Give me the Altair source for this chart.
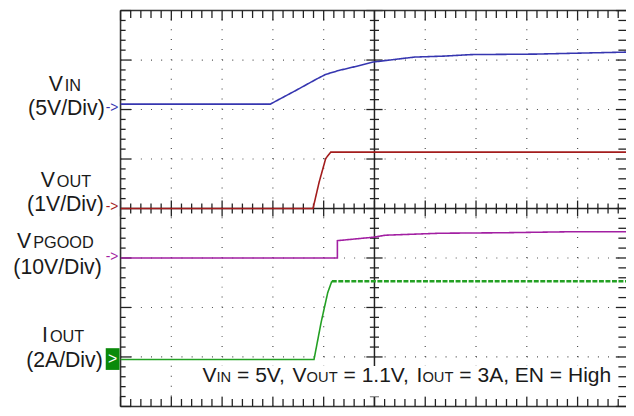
import altair as alt
import pandas as pd

# ---------------- data (oscilloscope divisions: time 0..10 div, amplitude 0..8 div) -------------
vin_t = [0.0, 2.95, 3.46, 3.85, 4.04, 4.30, 4.63, 4.98, 5.46, 5.79, 6.38, 6.90, 8.18, 9.04, 9.95, 10.0]
vin_v = [6.11, 6.11, 6.39, 6.61, 6.71, 6.79, 6.87, 6.96, 7.02, 7.06, 7.08, 7.11, 7.12, 7.14, 7.16, 7.16]

vout_t = [0.0, 3.79, 3.91, 4.04, 4.14, 10.0]
vout_v = [4.0, 4.0, 4.53, 5.01, 5.14, 5.14]

pg_t = [0.0, 4.27, 4.27, 4.98, 5.21, 6.28, 7.54, 8.84, 10.0]
pg_v = [3.0, 3.0, 3.35, 3.42, 3.46, 3.50, 3.51, 3.53, 3.53]

iout_t = [0.0, 3.81, 3.95, 4.08, 4.16, 10.0]
iout_v = [0.95, 0.95, 1.70, 2.30, 2.53, 2.53]
iout_settle = 4.16   # after this the current trace is the noisy, dashed-looking plateau

series_names = ["VIN", "VOUT", "VPGOOD", "IOUT"]
series_colors = ["#3636b0", "#a31c1c", "#a21fa2", "#23a023"]

# graticule (divisions)
x_major = [1, 2, 3, 4, 6, 7, 8, 9]
y_major = [1, 2, 3, 5, 6, 7]
x_ticks_minor = [i / 5 for i in range(0, 50) if i % 5 != 0]
x_ticks_major = [i for i in range(0, 10)]
y_ticks_minor = [i / 5 for i in range(0, 41) if i % 5 != 0]
y_ticks_major = [i for i in range(0, 9)]

DIV_X = 51.44
W, H = 512, 401
XMAX = W / DIV_X
FONT = "Liberation Sans"
INK = "#1a1a1a"

xs = alt.Scale(domain=[0, XMAX], nice=False, zero=False)
ys = alt.Scale(domain=[0, 8], nice=False, zero=False)

rows = []
for name, tt, vv in [("VIN", vin_t, vin_v), ("VOUT", vout_t, vout_v),
                     ("VPGOOD", pg_t, pg_v)]:
    for t, v in zip(tt, vv):
        rows.append({"series": name, "part": "solid", "t": t, "v": v})
for t, v in zip(iout_t, iout_v):
    if t <= iout_settle:
        rows.append({"series": "IOUT", "part": "solid", "t": t, "v": v})
    if t >= iout_settle:
        rows.append({"series": "IOUT", "part": "noisy", "t": t, "v": v})
traces = pd.DataFrame(rows)


def rule_x(vals, y1, y2, color="#222", width=1.0, dash=None):
    kw = dict(color=color, strokeWidth=width)
    if dash:
        kw["strokeDash"] = dash
    df = pd.DataFrame({"p": vals, "a": [y1] * len(vals), "b": [y2] * len(vals)})
    return alt.Chart(df).mark_rule(**kw).encode(
        x=alt.X("p:Q", scale=xs, axis=None),
        y=alt.Y("a:Q", scale=ys, axis=None), y2="b:Q")


def rule_y(vals, x1, x2, color="#222", width=1.0, dash=None):
    kw = dict(color=color, strokeWidth=width)
    if dash:
        kw["strokeDash"] = dash
    df = pd.DataFrame({"p": vals, "a": [x1] * len(vals), "b": [x2] * len(vals)})
    return alt.Chart(df).mark_rule(**kw).encode(
        y=alt.Y("p:Q", scale=ys, axis=None),
        x=alt.X("a:Q", scale=xs, axis=None), x2="b:Q")


layers = []
# dotted grid
layers.append(rule_x(x_major, 0, 8, color="#505050", width=1.2, dash=[1, 9.03]))
layers.append(rule_y(y_major, 0, XMAX, color="#505050", width=1.2, dash=[1, DIV_X / 5 - 1]))
# center cross
layers.append(rule_x([5], 0, 8, color="#222", width=1.5))
layers.append(rule_y([4], 0, XMAX, color="#222", width=1.5))
layers.append(rule_y(y_ticks_minor, 4.91, 5.09, width=1.3))
layers.append(rule_y(y_ticks_major, 4.84, 5.16, width=1.3))
layers.append(rule_x(x_ticks_minor, 3.9, 4.1, width=1.3))
layers.append(rule_x(x_ticks_major, 3.84, 4.16, width=1.3))
# borders
layers.append(rule_y([8], 0, XMAX, color="#333", width=1.6))
layers.append(rule_y([0], 0, XMAX, color="#333", width=1.6))
layers.append(rule_x([0], 0, 8, color="#333", width=1.6))
# border ticks
layers.append(rule_x(x_ticks_minor, 8, 7.85, width=1.3))
layers.append(rule_x(x_ticks_major, 8, 7.8, width=1.3))
layers.append(rule_x(x_ticks_minor, 0, 0.15, width=1.3))
layers.append(rule_x(x_ticks_major, 0, 0.2, width=1.3))
layers.append(rule_y(y_ticks_minor, 0, 0.1, width=1.3))
layers.append(rule_y(y_ticks_major, 0, 0.21, width=1.3))
# right border (just off-screen) ticks pointing inwards
layers.append(rule_y(y_ticks_minor, XMAX - 0.15, XMAX, width=1.3))
layers.append(rule_y(y_ticks_major, XMAX - 0.2, XMAX, width=1.3))

one = pd.DataFrame({"k": [0]})

# white box behind the condition annotation
layers.append(alt.Chart(one).mark_rect(color="white").encode(
    x=alt.value(78), x2=alt.value(502), y=alt.value(360), y2=alt.value(391)))

# traces
layers.append(alt.Chart(traces).mark_line(strokeWidth=1.6, clip=True).encode(
    x=alt.X("t:Q", scale=xs, axis=None),
    y=alt.Y("v:Q", scale=ys, axis=None),
    color=alt.Color("series:N", scale=alt.Scale(domain=series_names, range=series_colors), legend=None),
    strokeDash=alt.StrokeDash("part:N", scale=alt.Scale(domain=["solid", "noisy"], range=[[1, 0], [5, 1.6]]),
                              legend=None),
    size=alt.Size("part:N", scale=alt.Scale(domain=["solid", "noisy"], range=[1.6, 2.4]), legend=None),
    detail="series:N",
))


def txt(text, x, y, size, align="left", color=INK, baseline="alphabetic"):
    return alt.Chart(one).mark_text(
        text=text, align=align, baseline=baseline, fontSize=size, font=FONT, color=color
    ).encode(x=alt.value(x), y=alt.value(y))


MAIN, SUB = 21.5, 16.5
# channel labels: (main letter, subscript, split x, baseline, scale text, scale right x, scale baseline)
labels = [
    ("V", "IN", -58.5, 81, "(5V/Div)", -16, 106),
    ("V", "OUT", -66.5, 178.5, "(1V/Div)", -17, 203.5),
    ("V", "PGOOD", -90.5, 240.5, "(10V/Div)", -19, 267),
    ("I", "OUT", -73.5, 336, "(2A/Div)", -18, 361),
]
for main, sub, sx, sb, scale_txt, rx, rb in labels:
    layers.append(txt(main, sx, sb, MAIN, align="right"))
    layers.append(txt(sub, sx + 2, sb, SUB, align="left"))
    layers.append(txt(scale_txt, rx, rb, MAIN, align="right"))

for col, ay in [(series_colors[0], 99), (series_colors[1], 199), (series_colors[2], 250)]:
    layers.append(txt("->", -15, ay, 14, align="left", color=col, baseline="middle"))

# IOUT marker: green box with white arrow
layers.append(alt.Chart(one).mark_rect(color="#0a8a0a").encode(
    x=alt.value(-15), x2=alt.value(-1), y=alt.value(342), y2=alt.value(364)))
layers.append(txt(">", -8, 353, 16, align="center", color="white", baseline="middle"))

# condition annotation with subscripts (Arial/Liberation advance widths, per 1000 em)
AW = {"V": 667, "I": 278, "N": 722, "O": 778, "U": 722, "T": 611, " ": 278, "=": 584,
      "5": 556, "1": 556, ".": 278, ",": 278, "3": 556, "A": 667, "E": 667, "H": 722,
      "i": 222, "g": 556, "h": 556}


def adv(s, size):
    return sum(AW[c] for c in s) / 1000 * size


AM, AS, AB = 21.3, 14.9, 376.5
ann = [("V", AM), ("IN", AS), (" = 5V,", AM), (" V", AM), ("OUT", AS),
       (" = 1.1V,", AM), (" I", AM), ("OUT", AS), (" = 3A, EN = High", AM)]
cx = 83.0
for seg, s in ann:
    lead = len(seg) - len(seg.lstrip(" "))
    layers.append(txt(seg.lstrip(" "), cx + adv(" " * lead, s), AB, s, align="left"))
    cx += adv(seg, s)

chart = alt.layer(*layers).properties(
    width=W, height=H,
    autosize=alt.AutoSizeParams(type="none"),
    padding={"left": 114, "top": 0, "right": 0, "bottom": 0},
    background="white",
).configure_view(strokeWidth=0)

chart.save("out.html", embed_options={"renderer": "svg", "actions": False})
